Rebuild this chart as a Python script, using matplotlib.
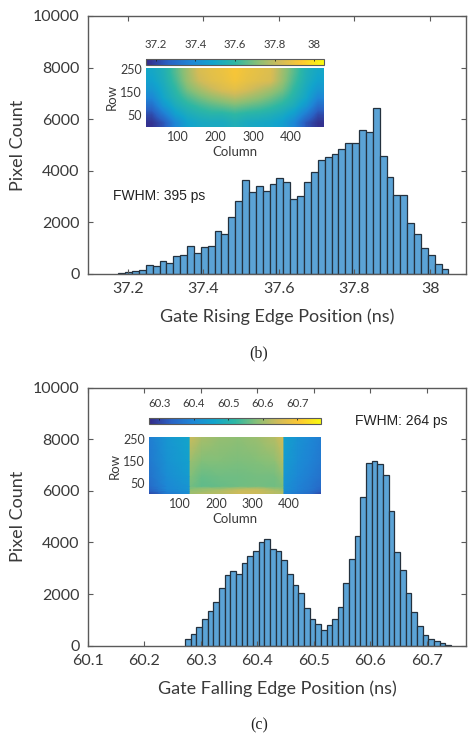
#!/usr/bin/env python3
import matplotlib
matplotlib.use('Agg')
import matplotlib.pyplot as plt
import numpy as np
from matplotlib.colors import LinearSegmentedColormap

W, H = 472, 736
plt.rcParams['font.family'] = 'Lato'

# histogram (b): rising edge
rise_start = 37.175
rise_width = 0.0182
rise_counts = [40, 90, 130, 170, 340, 310, 490, 430, 700, 750, 1100, 815, 1060, 1070, 1650, 1540,
               2210, 2820, 3660, 3180, 3415, 3220, 3470, 3730, 3550, 2910, 3040, 3550, 3970, 4400,
               4520, 4640, 4840, 5060, 5060, 5570, 5490, 6440, 4580, 3770, 3070, 3080, 1960, 1560,
               1010, 750, 400, 210]
rise_ticks = [37.2, 37.4, 37.6, 37.8, 38]
rise_labels = ['37.2', '37.4', '37.6', '37.8', '38']

# histogram (c): falling edge
fall_start = 60.272
fall_width = 0.01003
fall_counts = [260, 440, 710, 1030, 1340, 1680, 2220, 2720, 2880, 2760, 3210, 3470, 3660, 4010,
               4130, 3730, 3680, 3320, 2770, 2330, 2040, 1470, 1030, 850, 610, 810, 1040, 1510,
               2420, 3350, 4240, 5770, 7070, 7160, 7030, 6630, 5200, 3610, 2930, 2030, 1320, 750,
               430, 260, 180, 90, 40]
fall_ticks = [60.1, 60.2, 60.3, 60.4, 60.5, 60.6, 60.7]

y_ticks = [0, 2000, 4000, 6000, 8000, 10000]

# inset (b), coarse read of the map, top row first
rise_map = [
    [37.50, 37.55, 37.65, 37.75, 37.84, 37.87, 37.89, 37.92, 37.89, 37.87, 37.85, 37.75, 37.65, 37.55, 37.50],
    [37.48, 37.54, 37.63, 37.74, 37.82, 37.86, 37.88, 37.91, 37.88, 37.86, 37.84, 37.74, 37.63, 37.54, 37.48],
    [37.44, 37.52, 37.60, 37.70, 37.76, 37.81, 37.85, 37.87, 37.84, 37.80, 37.76, 37.70, 37.60, 37.52, 37.44],
    [37.38, 37.50, 37.57, 37.64, 37.69, 37.73, 37.76, 37.79, 37.76, 37.73, 37.69, 37.64, 37.57, 37.50, 37.38],
    [37.30, 37.44, 37.53, 37.58, 37.62, 37.65, 37.67, 37.69, 37.67, 37.65, 37.62, 37.58, 37.53, 37.44, 37.30],
    [37.22, 37.34, 37.47, 37.53, 37.56, 37.58, 37.58, 37.60, 37.58, 37.57, 37.55, 37.52, 37.46, 37.34, 37.22],
    [37.17, 37.24, 37.38, 37.48, 37.51, 37.52, 37.52, 37.55, 37.52, 37.51, 37.50, 37.47, 37.38, 37.24, 37.17],
]

# inset (c), bottom row first; columns doubled at the two sharp edges
fall_cols = [16, 64, 127, 129, 160, 210, 260, 310, 360, 384, 386, 424, 458, 488]
fall_rows = [0, 14, 24, 36, 80, 150, 256]
fall_map = [
    [60.30, 60.37, 60.41, 60.60, 60.62, 60.62, 60.64, 60.64, 60.62, 60.62, 60.40, 60.37, 60.35, 60.30],
    [60.33, 60.39, 60.42, 60.60, 60.60, 60.62, 60.64, 60.64, 60.62, 60.61, 60.41, 60.38, 60.36, 60.33],
    [60.34, 60.40, 60.43, 60.58, 60.60, 60.60, 60.62, 60.63, 60.60, 60.59, 60.42, 60.39, 60.37, 60.34],
    [60.35, 60.40, 60.43, 60.57, 60.555, 60.56, 60.565, 60.57, 60.565, 60.575, 60.42, 60.39, 60.37, 60.35],
    [60.36, 60.41, 60.44, 60.58, 60.56, 60.565, 60.565, 60.57, 60.57, 60.59, 60.43, 60.40, 60.38, 60.36],
    [60.37, 60.42, 60.45, 60.60, 60.58, 60.58, 60.575, 60.58, 60.59, 60.62, 60.44, 60.41, 60.39, 60.37],
    [60.38, 60.43, 60.46, 60.64, 60.61, 60.595, 60.59, 60.60, 60.62, 60.65, 60.45, 60.42, 60.40, 60.38],
]

parula = LinearSegmentedColormap.from_list('parula', ['#352A87', '#2A62C4', '#1E86D6', '#12A4CC', '#2EB7A4',
                                                      '#87BF77', '#D1BB59', '#FEC832', '#F9FB0E'])
BAR = '#5BA3D6'
EDGE = '#24313E'
AXC = '#5A5A5A'
TXT = '#3A3A3A'


def box(fig, left, top, right, bottom):
    # pixel box -> figure fractions
    return fig.add_axes([left / W, 1 - bottom / H, (right - left) / W, (bottom - top) / H])


def hist_panel(fig, top, bottom, xlim, start, width, counts, ticks, labels, xlabel):
    ax = box(fig, 88, top, 466, bottom)
    x = start + width * np.arange(len(counts))
    ax.bar(x, counts, width=width, align='edge', color=BAR, edgecolor=EDGE, linewidth=0.9)
    ax.set_xlim(xlim)
    ax.set_ylim(0, 10000)
    ax.set_xticks(ticks)
    ax.set_xticklabels(labels)
    ax.set_yticks(y_ticks)
    ax.tick_params(direction='in', length=3.5, width=0.8, color=AXC, top=True, right=True,
                   labelsize=11.5, labelcolor=TXT, pad=6)
    for s in ax.spines.values():
        s.set_color(AXC)
        s.set_linewidth(1.0)
    ax.set_xlabel(xlabel, fontsize=13, color=TXT, labelpad=9)
    ax.set_ylabel('Pixel Count', fontsize=13, color=TXT)
    ax.yaxis.set_label_coords(-0.165, 0.5)
    return ax


def inset_style(ax, cticks):
    ax.set_xticks(cticks)
    ax.set_yticks([50, 150, 250])
    ax.tick_params(length=0, labelsize=9, labelcolor=TXT, pad=3)
    ax.set_xlabel('Column', fontsize=9.5, color=TXT, labelpad=2)
    ax.set_ylabel('Row', fontsize=9.5, color=TXT, labelpad=2)
    for s in ax.spines.values():
        s.set_visible(False)


def colorbar(fig, mappable, left, top, right, bottom, ticks, labels):
    cax = box(fig, left, top, right, bottom)
    cb = fig.colorbar(mappable, cax=cax, orientation='horizontal')
    cb.set_ticks(ticks)
    cb.set_ticklabels(labels)
    cax.xaxis.set_ticks_position('top')
    cax.tick_params(length=1.5, width=0.6, direction='in', color='#222222', labelsize=8.2, labelcolor=TXT, pad=6)
    cb.outline.set_edgecolor(AXC)
    cb.outline.set_linewidth(0.8)


fig = plt.figure(figsize=(W / 100, H / 100), dpi=100)

hist_panel(fig, 16, 274, (37.095, 38.095), rise_start, rise_width, rise_counts, rise_ticks, rise_labels,
           'Gate Rising Edge Position (ns)')
hist_panel(fig, 387.6, 645.6, (60.1, 60.77), fall_start, fall_width, fall_counts, fall_ticks,
           [f'{t:.1f}' for t in fall_ticks], 'Gate Falling Edge Position (ns)')

# inset (b)
ax1 = box(fig, 146, 68, 324, 126.7)
im1 = ax1.imshow(rise_map, extent=(16, 488, 0, 256), aspect='auto', cmap=parula, vmin=37.15, vmax=38.05,
                 interpolation='bilinear')
inset_style(ax1, [100, 200, 300, 400])
colorbar(fig, im1, 146, 58.7, 324, 64.7, rise_ticks, rise_labels)

# inset (c)
ax2 = box(fig, 149, 437.3, 321.3, 494)
im2 = ax2.pcolormesh(fall_cols, fall_rows, fall_map, cmap=parula, vmin=60.27, vmax=60.77, shading='gouraud')
inset_style(ax2, [100, 200, 300, 400])
fall_cticks = [60.3, 60.4, 60.5, 60.6, 60.7]
colorbar(fig, im2, 149, 417.7, 321.3, 423.7, fall_cticks, [f'{t:.1f}' for t in fall_cticks])

# annotations, placed in pixels
fig.text(113 / W, 1 - 196 / H, 'FWHM: 395 ps', family='Liberation Sans', fontsize=10, color='#222222', va='center')
fig.text(355 / W, 1 - 421.5 / H, 'FWHM: 264 ps', family='Liberation Sans', fontsize=10, color='#222222', va='center')
fig.text(259 / W, 1 - 353 / H, '(b)', family='Liberation Serif', fontsize=11.5, color='#222222', ha='center', va='center')
fig.text(259 / W, 1 - 725 / H, '(c)', family='Liberation Serif', fontsize=11.5, color='#222222', ha='center', va='center')

fig.savefig('out.png', dpi=100)
